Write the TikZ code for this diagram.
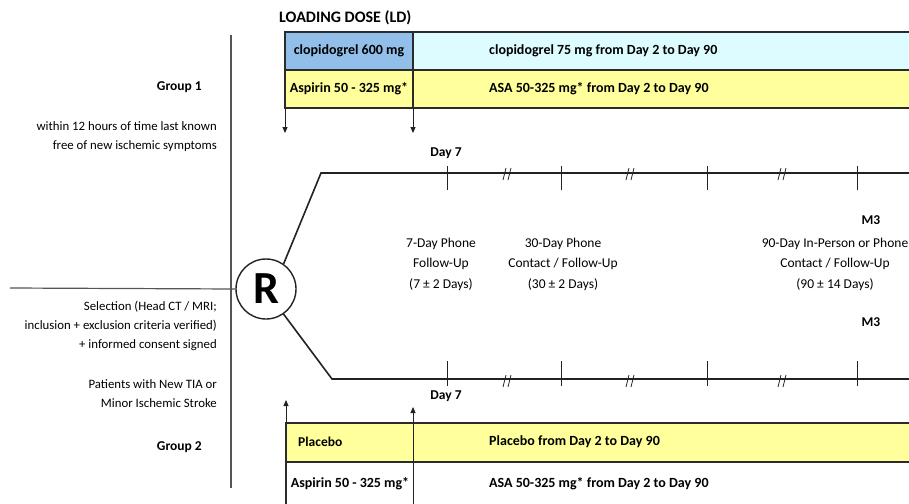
\documentclass[tikz,border=0pt]{standalone}
\usepackage{fontspec}
\setmainfont{Carlito}
\usetikzlibrary{arrows.meta}
\definecolor{ldblue}{HTML}{92BEEA}
\definecolor{cyanrow}{HTML}{DDFCFF}
\definecolor{yelrow}{HTML}{FFFF9C}
\definecolor{bordc}{HTML}{2B2B2B}
\definecolor{linec}{HTML}{222222}
\definecolor{sidec}{HTML}{555555}
\begin{document}
\begin{tikzpicture}[x=1pt,y=-1pt,
  font=\fontsize{12}{14}\selectfont,
  tbl/.style={draw=bordc,line width=1.6pt},
  tline/.style={draw=linec,line width=1.6pt},
  tick/.style={draw=linec,line width=1pt},
  brk/.style={draw=linec,line width=0.8pt},
  arr/.style={draw=linec,line width=0.9pt,-{Triangle[length=6pt,width=5pt]}},
  cell/.style={font=\fontsize{14}{16}\selectfont\bfseries,inner sep=0pt},
  lefttxt/.style={align=right,anchor=east,inner sep=0pt,font=\fontsize{12.8}{19}\selectfont},
  tltxt/.style={align=center,inner sep=0pt,font=\fontsize{13.5}{20.5}\selectfont},
  boldlbl/.style={inner sep=0pt,font=\fontsize{13.5}{15}\selectfont\bfseries}]
\useasboundingbox (0,0) rectangle (909,503);

% ---------- top table ----------
\fill[ldblue] (285,32) rectangle (413,70);
\fill[cyanrow] (413,32) rectangle (912,70);
\fill[yelrow] (285,70) rectangle (912,108);
\draw[tbl] (912,32) -- (285,32) -- (285,108) -- (912,108);
\draw[tbl] (285,70) -- (912,70);
\draw[tbl] (413,32) -- (413,108);
\node[inner sep=0pt,font=\fontsize{16}{18}\selectfont\bfseries,anchor=west] (ld) at (279,18) {LOADING DOSE (LD)};
\node[cell] (c600) at (349,51) {clopidogrel 600 mg};
\node[cell,anchor=west] (c75) at (489,51) {clopidogrel 75 mg from Day 2 to Day 90};
\node[cell] (asp1) at (349,89) {Aspirin 50 - 325 mg*};
\node[cell,anchor=west] (asa1) at (489,89) {ASA 50-325 mg* from Day 2 to Day 90};
\coordinate (ta1) at (285,108); \coordinate (tb1) at (285,133);
\coordinate (ta2) at (413,108); \coordinate (tb2) at (413,133);
\draw[arr] (ta1) -- (tb1);
\draw[arr] (ta2) -- (tb2);

% ---------- bottom table ----------
\fill[yelrow] (286,423) rectangle (912,462);
\draw[tbl] (912,423) -- (286,423) -- (286,506);
\draw[tbl] (286,462) -- (912,462);
\coordinate (ba1) at (286,423); \coordinate (bb1) at (286,400);
\coordinate (ba2) at (413,506); \coordinate (bb2) at (413,407);
\draw[arr] (ba1) -- (bb1);
\draw[arr] (ba2) -- (bb2);
\node[cell,anchor=west,font=\fontsize{13.5}{15}\selectfont\bfseries] (plc) at (298,442) {Placebo};
\node[cell,anchor=west] (plc2) at (489,442) {Placebo from Day 2 to Day 90};
\node[cell] (asp2) at (350,484) {Aspirin 50 - 325 mg*};
\node[cell,anchor=west] (asa2) at (489,484) {ASA 50-325 mg* from Day 2 to Day 90};

% ---------- left side ----------
\coordinate (vt) at (231,35); \coordinate (vb) at (231,488);
\draw[draw=sidec,line width=1.2pt] (vt) -- (vb);
\node[draw=linec,line width=1.4pt,circle,minimum size=60pt,inner sep=0pt,
      font=\fontsize{46}{46}\selectfont\bfseries] (R) at (266,289) {R};
\coordinate (hl) at (10,288);
\draw[draw=sidec,line width=1.2pt] (hl) -- (R.west);

\node[boldlbl,anchor=east] (g1) at (202,87) {Group 1};
\node[lefttxt] (w12) at (217,137) {within 12 hours of time last known\\free of new ischemic symptoms};
\node[lefttxt] (sel) at (217,326) {Selection (Head CT / MRI;\\inclusion + exclusion criteria verified)\\+ informed consent signed};
\node[lefttxt] (pat) at (217,394) {Patients with New TIA or\\Minor Ischemic Stroke};
\node[boldlbl,anchor=east] (g2) at (202,447) {Group 2};

% ---------- timelines ----------
\coordinate (ub) at (321,173); \coordinate (ue) at (912,173);
\coordinate (lb) at (332,379); \coordinate (le) at (912,379);
\draw[tline] (R.55) -- (ub) -- (ue);
\draw[tline] (R.-55) -- (lb) -- (le);
\foreach \x in {447,561,707,857} {
  \draw[tick] (\x,166) -- (\x,190);
  \draw[tick] (\x,361) -- (\x,386);
}
\foreach \x in {507,630,782} {
  \foreach \y in {174,381} {
    \draw[brk] (\x-4,\y+6) -- (\x-1,\y-6);
    \draw[brk] (\x+1,\y+6) -- (\x+4,\y-6);
  }
}
\node[boldlbl] (d7u) at (446,153) {Day 7};
\node[boldlbl] (d7l) at (446,396) {Day 7};
\node[boldlbl] (m3u) at (871,220) {M3};
\node[boldlbl] (m3l) at (871,322) {M3};

\node[tltxt] (f7) at (441,264) {7-Day Phone\\Follow-Up\\(7 ± 2 Days)};
\node[tltxt] (f30) at (563,264) {30-Day Phone\\Contact / Follow-Up\\(30 ± 2 Days)};
\node[tltxt] (f90) at (835,264) {90-Day In-Person or Phone\\Contact / Follow-Up\\(90 ± 14 Days)};
\end{tikzpicture}
\end{document}
